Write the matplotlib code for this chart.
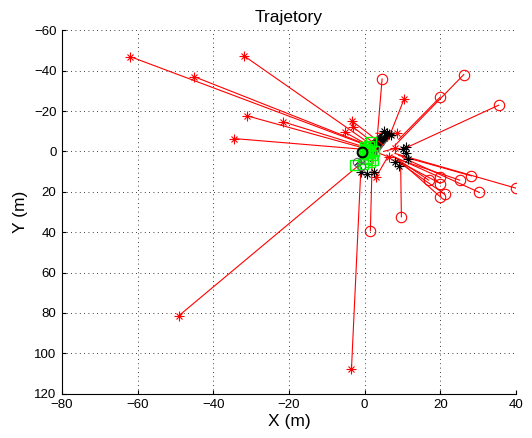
import numpy as np
import matplotlib.pyplot as plt

plt.rcParams['font.family'] = ['Liberation Sans', 'DejaVu Sans']

# trajectories ending in a red asterisk: start (x, y) -> end (x, y)
star_x0 = [2, 1, 2, 1, 2, 0, 5, 4, 2, 6, 6, -1, -1, 5, 4, 3]
star_y0 = [-2, -3, -3, -1, -1, -1, -3, -2, -2, -5, 3, 6, 8, 0, 1, -9]
star_x1 = [-62, -45, -32, -31, -21.6, -34.6, -3.4, -3.2, -5.1, 10.4, 3.0, -49.2, -3.5, 8, 6.3, 8.6]
star_y1 = [-47, -37, -47.5, -17.6, -14.7, -6.4, -15.2, -12.2, -9.4, -25.9, 12.6, 81.5, 108, -1.5, 2.7, -8.9]

# trajectories ending in a red circle
circ_x0 = [3, 8, 9, 10, 8, 9, 10, 9, 8, 7, 9, 10, 8, 9.5, 2]
circ_y0 = [0, -3, -6, -1, 1, 2, 3, 4, 3, 2, 5, 6, 4, 6, 3]
circ_x1 = [4.6, 26.2, 20.0, 35.4, 40.0, 28.2, 30.3, 25.1, 16.9, 20.0, 20.0, 20.0, 21.1, 9.7, 1.5]
circ_y1 = [-35.9, -38.1, -27.0, -22.9, 18.2, 12.1, 20.3, 14.2, 14.2, 12.9, 15.9, 22.5, 21.1, 32.4, 39.3]

# black asterisk positions near the origin
blk_x = [6, 7, 5, 6.5, 11, 11.5, 11, 9, -1, 0.5, 2.4, 10, 8]
blk_y = [-9, -8, -10, -8.5, -2, 3.5, 1, 7, 10, 11, 10, -1, 5]

# green square positions
grn_x = [1.7, 0, 1, 0, 2, 1, -2.5, -0.5, 1.5, 0.5, 2.5, 1.5, 0.3, 1.2, 2.2, -0.3]
grn_y = [-4.8, -2, 0, 1, 2, 3, 6.8, 6, 5, -1, 0, 1, 3.5, -2.5, 4, -0.5]

# circles at the origin area
bc_x = [-0.7, -2, -1]
bc_y = [0.2, 5, 7]


def asterisk(ax, x, y, color, size=6.5, lw=0.8):
    # MATLAB style '*' marker: a plus and a cross on top of each other
    ax.plot(x, y, '+', color=color, ms=size, mew=lw, ls='none')
    ax.plot(x, y, 'x', color=color, ms=size * 0.75, mew=lw, ls='none')


fig = plt.figure(figsize=(5.32, 4.38), dpi=100)
ax = fig.add_axes([0.1165, 0.1011, 0.8535, 0.8297])

for x0, y0 in zip(grn_x, grn_y):
    for x1, y1 in zip(blk_x[:4], blk_y[:4]):
        ax.plot([x0, x1], [y0, y1], color='k', lw=0.5, alpha=0.6)
for x0, y0, x1, y1 in zip(star_x0, star_y0, star_x1, star_y1):
    ax.plot([x0, x1], [y0, y1], color='r', lw=0.8)
asterisk(ax, star_x1, star_y1, 'r')
for x0, y0, x1, y1 in zip(circ_x0, circ_y0, circ_x1, circ_y1):
    ax.plot([x0, x1], [y0, y1], color='r', lw=0.8)
ax.plot(circ_x1, circ_y1, 'o', color='r', mfc='none', ms=7.5, mew=0.8, ls='none')

asterisk(ax, blk_x, blk_y, 'k')
ax.plot(grn_x, grn_y, 's', color='#00ff00', mfc='none', ms=7.5, mew=1.0, ls='none')
ax.plot(bc_x[:1], bc_y[:1], 'o', color='k', mfc='none', ms=7, mew=1.5, ls='none')
ax.plot(bc_x[1:], bc_y[1:], 'o', color='0.4', mfc='none', ms=6, mew=0.8, ls='none')

ax.set_xlim(-80, 40)
ax.set_ylim(120, -60)
ax.set_xticks(np.arange(-80, 41, 20))
ax.set_yticks(np.arange(-60, 121, 20))
ax.grid(True, color='k', linestyle=(0, (1, 4.2)), linewidth=0.6)
ax.spines['top'].set_visible(False)
ax.spines['right'].set_visible(False)
ax.tick_params(direction='in', labelsize=9.5, length=3, pad=4)
ax.set_title('Trajetory', fontsize=12.5)
ax.set_xlabel('X (m)', fontsize=12.5, labelpad=2)
ax.set_ylabel('Y (m)', fontsize=12.5)

fig.savefig('out.png', dpi=100)
